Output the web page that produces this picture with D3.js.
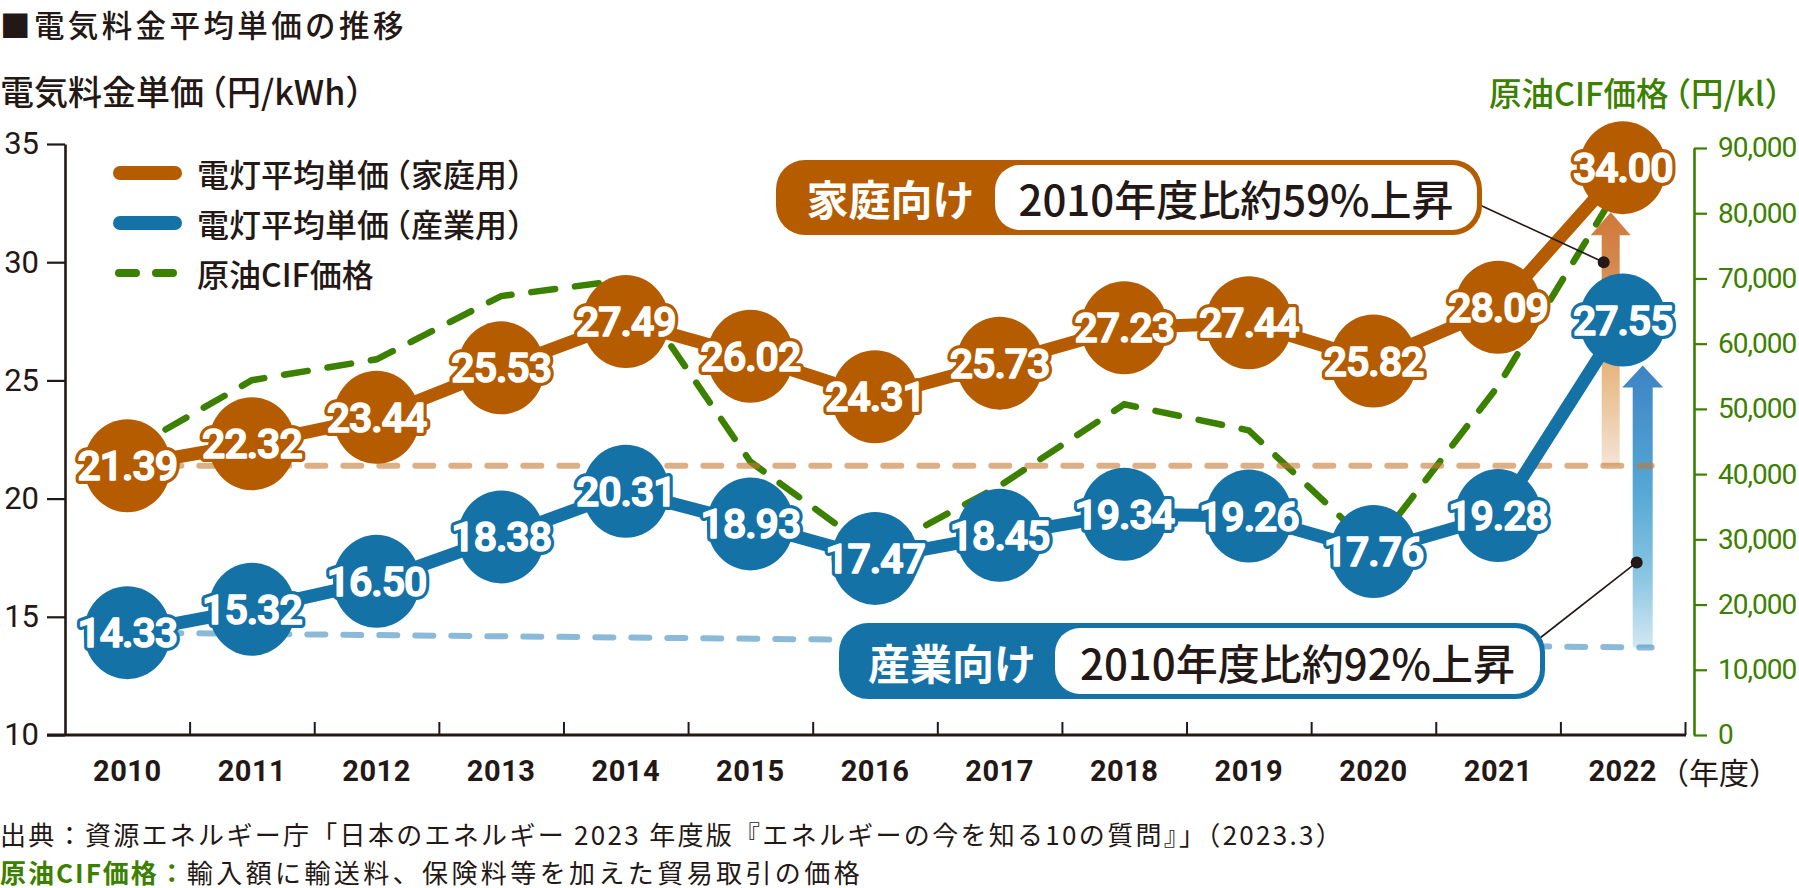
<!DOCTYPE html>
<html><head><meta charset="utf-8">
<script src="https://cdn.jsdelivr.net/npm/d3@7/dist/d3.min.js"></script>
<style>
html,body{margin:0;padding:0;background:#fff;}
svg{display:block;}
</style></head>
<body>
<svg id="chart" width="1799" height="888"></svg>
<script>
// ---------- data ----------
const years = ["2010","2011","2012","2013","2014","2015","2016","2017","2018","2019","2020","2021","2022"];
const household = [21.39,22.32,23.44,25.53,27.49,26.02,24.31,25.73,27.23,27.44,25.82,28.09,34.00];
const industrial = [14.33,15.32,16.50,18.38,20.31,18.93,17.47,18.45,19.34,19.26,17.76,19.28,27.55];
const crudeOil = [43500,54400,57600,67300,69800,41900,28000,38200,50700,46700,28700,53500,85000];
const leftTicks = [10,15,20,25,30,35];
const rightTicks = [0,10000,20000,30000,40000,50000,60000,70000,80000,90000];
const industrialRefEnd = 13.7;
const legendLabels = ["電灯平均単価（家庭用）","電灯平均単価（産業用）","原油CIF価格"];
const calloutTags = ["家庭向け","産業向け"];
const calloutTexts = ["2010年度比約59%上昇","2010年度比約92%上昇"];

// ---------- style ----------
const C = {
  dark:"#231815", brown:"#b55c00", blue:"#1572a7", green:"#3c8000",
  refBrown:"#c47a33", refBlue:"#3e8cbe"
};
const JP = "'Noto Sans CJK JP','Noto Sans',sans-serif";
const NUM = "Roboto,'Liberation Sans',sans-serif";

const svg = d3.select("#chart");
const x = d3.scaleBand().domain(years).range([65,1685]).padding(0);
const cx = d => x(d) + x.bandwidth()/2;
const yL = d3.scaleLinear().domain([10,35]).range([735,144]);
const yR = d3.scaleLinear().domain([0,90000]).range([735,148]);
const xb = d3.scaleLinear().domain([0,years.length]).range([65,1685]);

// text with tightened full-width opening parenthesis
function tightParen(sel, str, dx){
  const k = str.indexOf("（");
  if(k < 0){ sel.text(str); return; }
  sel.append("tspan").text(str.slice(0,k));
  sel.append("tspan").attr("dx",dx).text(str.slice(k));
}

// defs: gradients
const defs = svg.append("defs");
function grad(id, y1, y2, stops){
  const g = defs.append("linearGradient").attr("id",id)
    .attr("gradientUnits","userSpaceOnUse").attr("x1",0).attr("x2",0).attr("y1",y1).attr("y2",y2);
  stops.forEach(s=>g.append("stop").attr("offset",s[0]).attr("stop-color",s[1]));
}

// ---------- titles ----------
svg.append("text").attr("x",0).attr("y",24).attr("dominant-baseline","central")
  .attr("font-family",JP).attr("font-weight",500).attr("font-size",30.5).attr("letter-spacing",3.4)
  .attr("fill",C.dark).text("■電気料金平均単価の推移");
svg.append("text").attr("x",0).attr("y",90).attr("dominant-baseline","central")
  .attr("font-family",JP).attr("font-weight",500).attr("font-size",34).attr("fill",C.dark)
  .call(tightParen,"電気料金単価（円/kWh）",-11);
svg.append("text").attr("x",1797).attr("y",91).attr("dominant-baseline","central").attr("text-anchor","end")
  .attr("font-family",JP).attr("font-weight",500).attr("font-size",32.5).attr("fill",C.green)
  .call(tightParen,"原油CIF価格（円/kl）",-10);

// ---------- axes ----------
const gL = svg.append("g").attr("transform","translate(65,0)")
  .call(d3.axisLeft(yL).tickValues(leftTicks).tickSize(18).tickPadding(8).tickSizeOuter(0));
gL.select(".domain").attr("stroke",C.dark).attr("stroke-width",2.6);
gL.selectAll(".tick line").attr("stroke",C.dark).attr("stroke-width",2.2);
gL.selectAll(".tick text").attr("font-family",NUM).attr("font-size",31).attr("fill",C.dark);

const gX = svg.append("g").attr("transform","translate(0,735)")
  .call(d3.axisBottom(xb).tickValues(d3.range(1,years.length+1)).tickSize(-13).tickFormat("").tickSizeOuter(0));
gX.select(".domain").remove();
gX.selectAll(".tick text").remove();
gX.selectAll(".tick line").attr("stroke",C.dark).attr("stroke-width",2);
svg.append("line").attr("x1",47).attr("x2",1686).attr("y1",735).attr("y2",735)
  .attr("stroke",C.dark).attr("stroke-width",3);

const gXL = svg.append("g").attr("transform","translate(0,735)")
  .call(d3.axisBottom(x).tickSize(0).tickPadding(25));
gXL.select(".domain").remove();
gXL.selectAll(".tick text").attr("font-family",NUM).attr("font-weight",700).attr("font-size",29)
  .attr("letter-spacing",0.5).attr("fill",C.dark);
svg.append("text").attr("x",1659).attr("y",771).attr("dominant-baseline","central")
  .attr("font-family",JP).attr("font-size",30).attr("fill",C.dark).text("（年度）");

const gR = svg.append("g").attr("transform","translate(1694,0)")
  .call(d3.axisRight(yR).tickValues(rightTicks).tickSize(13).tickPadding(11).tickSizeOuter(0)
    .tickFormat(d3.format(",")));
gR.select(".domain").attr("stroke",C.green).attr("stroke-width",2.6);
gR.selectAll(".tick line").attr("stroke",C.green).attr("stroke-width",2.2);
gR.selectAll(".tick text").attr("font-family",NUM).attr("font-size",28).attr("letter-spacing",-1).attr("fill",C.green);

// ---------- crude oil dashed line ----------
svg.append("path").datum(crudeOil)
  .attr("d", d3.line().x((d,i)=>cx(years[i])).y(d=>yR(d)))
  .attr("fill","none").attr("stroke",C.green).attr("stroke-width",6.5)
  .attr("stroke-linecap","round").attr("stroke-dasharray","24 20");

// ---------- arrows ----------
const last = years[years.length-1];
const rx = 43.5, ry = 46.5;
const arrO = {x: cx(last)-12, tip: yL(household[household.length-1])+ry-2, base: yL(household[0]), sw:18, hw:40, hh:23};
const arrB = {x: cx(last)+20, tip: yL(industrial[industrial.length-1])+ry-1, base: yL(industrialRefEnd), sw:20, hw:41, hh:22};
function arrowPath(a){
  return `M${a.x-a.sw/2},${a.base}L${a.x-a.sw/2},${a.tip+a.hh}L${a.x-a.hw/2},${a.tip+a.hh}L${a.x},${a.tip}`+
         `L${a.x+a.hw/2},${a.tip+a.hh}L${a.x+a.sw/2},${a.tip+a.hh}L${a.x+a.sw/2},${a.base}Z`;
}
grad("gO", arrO.tip, arrO.base, [[0,"#cf783a"],[0.2,"#d4884c"],[0.6,"#e7b47d"],[1,"#f4e4d5"]]);
grad("gB", arrB.tip, arrB.base, [[0,"#3c84c3"],[0.45,"#56a8d5"],[0.75,"#8ac6e2"],[1,"#d3e8f2"]]);
svg.append("path").attr("d",arrowPath(arrO)).attr("fill","url(#gO)");
svg.append("path").attr("d",arrowPath(arrB)).attr("fill","url(#gB)");

// ---------- reference dashed lines ----------
const refEndX = arrB.x + 9;
svg.append("line").attr("x1",cx(years[0])).attr("x2",refEndX)
  .attr("y1",yL(household[0])).attr("y2",yL(household[0]))
  .attr("stroke",C.refBrown).attr("stroke-opacity",0.6).attr("stroke-width",6)
  .attr("stroke-linecap","round").attr("stroke-dasharray","18 18");
svg.append("line").attr("x1",cx(years[0])).attr("x2",refEndX)
  .attr("y1",yL(industrial[0])).attr("y2",yL(industrialRefEnd))
  .attr("stroke",C.refBlue).attr("stroke-opacity",0.6).attr("stroke-width",6)
  .attr("stroke-linecap","round").attr("stroke-dasharray","18 18");

// ---------- main series ----------
function series(vals, color){
  const g = svg.append("g");
  g.append("path").datum(vals)
    .attr("d", d3.line().x((d,i)=>cx(years[i])).y(d=>yL(d)))
    .attr("fill","none").attr("stroke",color).attr("stroke-width",13).attr("stroke-linejoin","round");
  g.selectAll("ellipse").data(vals).join("ellipse")
    .attr("cx",(d,i)=>cx(years[i])).attr("cy",d=>yL(d)).attr("rx",rx).attr("ry",ry).attr("fill",color);
  const lab = (sel)=>sel.attr("x",(d,i)=>cx(years[i])).attr("y",d=>yL(d))
    .attr("text-anchor","middle").attr("dy","0.355em")
    .attr("font-family",NUM).attr("font-weight",500).attr("font-size",41).attr("letter-spacing",-1)
    .text(d=>d.toFixed(2));
  g.selectAll("text.o").data(vals).join("text").attr("class","o").call(lab)
    .attr("fill","#fff").attr("stroke",color).attr("stroke-width",8).attr("stroke-linejoin","round");
  g.selectAll("text.i").data(vals).join("text").attr("class","i").call(lab)
    .attr("fill","#fff").attr("stroke","#fff").attr("stroke-width",1.6).attr("stroke-linejoin","round");
}
series(household, C.brown);
series(industrial, C.blue);

// ---------- legend ----------
const lg = svg.append("g");
const legY = [173,223,273];
lg.append("line").attr("x1",120).attr("x2",175).attr("y1",legY[0]).attr("y2",legY[0])
  .attr("stroke",C.brown).attr("stroke-width",14).attr("stroke-linecap","round");
lg.append("line").attr("x1",120).attr("x2",175).attr("y1",legY[1]).attr("y2",legY[1])
  .attr("stroke",C.blue).attr("stroke-width",14).attr("stroke-linecap","round");
lg.append("line").attr("x1",119).attr("x2",176).attr("y1",legY[2]).attr("y2",legY[2])
  .attr("stroke",C.green).attr("stroke-width",8).attr("stroke-linecap","round").attr("stroke-dasharray","17 20");
lg.selectAll("text").data(legendLabels).join("text")
  .attr("x",197).attr("y",(d,i)=>legY[i]).attr("dominant-baseline","central")
  .attr("font-family",JP).attr("font-weight",500).attr("font-size",32).attr("fill",C.dark)
  .each(function(d){ tightParen(d3.select(this), d, -10); });

// ---------- callouts ----------
const callouts = [
  {color:C.brown, x0:776, x1:1482, y0:160, y1:235, split:995, tag:calloutTags[0], txt:calloutTexts[0],
   lineFrom:[1482,206], dot:[arrO.x-7, yL(30)]},
  {color:C.blue, x0:839, x1:1545, y0:623, y1:699, split:1055, tag:calloutTags[1], txt:calloutTexts[1],
   lineFrom:[1540,638], dot:[arrB.x-6, yL(17.3)]}
];
callouts.forEach(c=>{
  const g = svg.append("g");
  g.append("line").attr("x1",c.lineFrom[0]).attr("y1",c.lineFrom[1]).attr("x2",c.dot[0]).attr("y2",c.dot[1])
    .attr("stroke",C.dark).attr("stroke-width",1.6);
  g.append("circle").attr("cx",c.dot[0]).attr("cy",c.dot[1]).attr("r",6).attr("fill",C.dark);
  g.append("rect").attr("x",c.x0).attr("y",c.y0).attr("width",c.x1-c.x0).attr("height",c.y1-c.y0)
    .attr("rx",29).attr("fill",c.color);
  g.append("rect").attr("x",c.split).attr("y",c.y0+5).attr("width",c.x1-5-c.split).attr("height",c.y1-c.y0-10)
    .attr("rx",25).attr("fill","#fff");
  const cy = (c.y0+c.y1)/2;
  g.append("text").attr("x",(c.x0+c.split)/2+5).attr("y",cy).attr("text-anchor","middle")
    .attr("dominant-baseline","central").attr("font-family",JP).attr("font-weight",700)
    .attr("font-size",42).attr("fill","#fff").text(c.tag);
  g.append("text").attr("x",(c.split+c.x1-5)/2).attr("y",cy).attr("text-anchor","middle")
    .attr("dominant-baseline","central").attr("font-family",JP).attr("font-weight",500)
    .attr("font-size",42).attr("fill",C.dark).text(c.txt);
});

// ---------- footer ----------
svg.append("text").attr("x",0).attr("y",833).attr("dominant-baseline","central")
  .attr("font-family",JP).attr("font-size",26).attr("letter-spacing",2.3).attr("fill",C.dark)
  .text("出典：資源エネルギー庁「日本のエネルギー 2023 年度版『エネルギーの今を知る10の質問』」（2023.3）");
const f2 = svg.append("text").attr("x",0).attr("y",871).attr("dominant-baseline","central")
  .attr("font-family",JP).attr("font-size",26).attr("fill",C.dark);
f2.append("tspan").attr("fill",C.green).attr("font-weight",700).attr("letter-spacing",2).text("原油CIF価格：");
f2.append("tspan").attr("letter-spacing",3.4).text("輸入額に輸送料、保険料等を加えた貿易取引の価格");
</script>
</body></html>
